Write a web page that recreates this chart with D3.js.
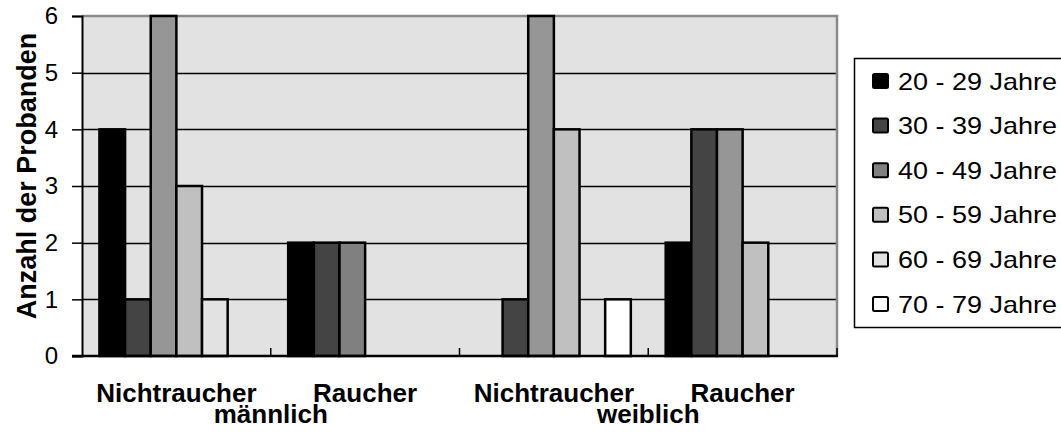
<!DOCTYPE html>
<html>
<head>
<meta charset="utf-8">
<script src="https://cdn.jsdelivr.net/npm/d3@7"></script>
<style>
  html, body { margin: 0; padding: 0; background: #ffffff; }
  svg { display: block; }
  text { font-family: "Liberation Sans", Arial, sans-serif; fill: #000; }
</style>
</head>
<body>
<svg id="chart" width="1061" height="432"></svg>
<script>
// ---- data ----
const categories = ["Nichtraucher", "Raucher", "Nichtraucher", "Raucher"];
const groupLabels = ["männlich", "weiblich"];
const seriesNames = ["20 - 29 Jahre", "30 - 39 Jahre", "40 - 49 Jahre", "50 - 59 Jahre", "60 - 69 Jahre", "70 - 79 Jahre"];
const values2029 = [4, 2, 0, 2];
const values3039 = [1, 2, 1, 4];
const values4049 = [6, 2, 6, 4];
const values5059 = [3, 0, 4, 2];
const values6069 = [1, 0, 0, 0];
const values7079 = [0, 0, 1, 0];
const seriesColors = ["#000000", "#444444", "#969696", "#c0c0c0", "#e2e2e2", "#ffffff"];
const legendColors = ["#000000", "#444444", "#808080", "#c0c0c0", "#e2e2e2", "#ffffff"];
const yTicks = [0, 1, 2, 3, 4, 5, 6];
const yTitle = "Anzahl der Probanden";

const seriesValues = [values2029, values3039, values4049, values5059, values6069, values7079];
const FONT = "'Liberation Sans', Arial, sans-serif";

// ---- layout ----
const svg = d3.select("#chart");
const plot = { left: 82, right: 837, top: 16, bottom: 356 };

const x0 = d3.scaleBand()
  .domain(categories.map((c, i) => i))
  .range([plot.left, plot.right])
  .paddingInner(0).paddingOuter(0);

const x1 = d3.scaleBand()
  .domain(seriesNames.map((s, i) => i))
  .range([0, x0.bandwidth()])
  .paddingInner(0).paddingOuter(0.68);

const y = d3.scaleLinear().domain([0, 6]).range([plot.bottom, plot.top]);

// plot background
svg.append("rect")
  .attr("x", plot.left).attr("y", plot.top)
  .attr("width", plot.right - plot.left).attr("height", plot.bottom - plot.top)
  .attr("fill", "#e2e2e2");

// gridlines
svg.append("g").selectAll("line")
  .data(yTicks.filter(t => t > 0 && t < 6))
  .join("line")
  .attr("x1", plot.left).attr("x2", plot.right)
  .attr("y1", d => Math.round(y(d)) + 0.5).attr("y2", d => Math.round(y(d)) + 0.5)
  .attr("stroke", "#000").attr("stroke-width", 1.3);

// top/right border (gray)
svg.append("path")
  .attr("d", `M${plot.left},${plot.top} H${plot.right} V${plot.bottom}`)
  .attr("fill", "none").attr("stroke", "#8a8a8a").attr("stroke-width", 2.5);

// bars
const barData = [];
seriesValues.forEach((vals, si) => {
  vals.forEach((v, ci) => {
    if (v > 0) {
      let fill = seriesColors[si];
      if (si === 2 && ci === 1) fill = "#808080";
      barData.push({ si, ci, v, fill });
    }
  });
});

svg.append("g").selectAll("rect")
  .data(barData)
  .join("rect")
  .attr("x", d => x0(d.ci) + x1(d.si))
  .attr("y", d => y(d.v))
  .attr("width", x1.bandwidth())
  .attr("height", d => y(0) - y(d.v))
  .attr("fill", d => d.fill)
  .attr("stroke", "#000")
  .attr("stroke-width", 2.5);

// y axis
const yAxis = d3.axisLeft(y).tickValues(yTicks).tickSize(10).tickPadding(14).tickFormat(d3.format("d"));
const gy = svg.append("g").attr("transform", `translate(${plot.left},0)`).call(yAxis);
gy.select(".domain").attr("stroke", "#000").attr("stroke-width", 2);
gy.selectAll(".tick line").attr("stroke", "#000").attr("stroke-width", 1.5);
gy.selectAll(".tick text")
  .attr("font-size", 24).attr("font-family", FONT)
  .attr("fill", "#000");

// x axis (baseline with inward ticks at category boundaries)
const gx = svg.append("g");
gx.append("line")
  .attr("x1", plot.left - 10).attr("x2", plot.right + 1)
  .attr("y1", plot.bottom).attr("y2", plot.bottom)
  .attr("stroke", "#000").attr("stroke-width", 2.5);
const boundaries = categories.map((c, i) => x0(i) + x0.bandwidth());
gx.selectAll("line.bt")
  .data(boundaries)
  .join("line")
  .attr("class", "bt")
  .attr("x1", d => d).attr("x2", d => d)
  .attr("y1", plot.bottom).attr("y2", plot.bottom - 8)
  .attr("stroke", "#000").attr("stroke-width", 1.5);

// category labels
svg.append("g").selectAll("text")
  .data(categories)
  .join("text")
  .attr("x", (d, i) => x0(i) + x0.bandwidth() / 2)
  .attr("y", 402)
  .attr("text-anchor", "middle")
  .attr("font-size", 26).attr("font-weight", "bold")
  .text(d => d);

// group labels
svg.append("g").selectAll("text")
  .data(groupLabels)
  .join("text")
  .attr("x", (d, i) => x0(i * 2) + x0.bandwidth())
  .attr("y", 423)
  .attr("text-anchor", "middle")
  .attr("font-size", 26).attr("font-weight", "bold")
  .text(d => d);

// y title
svg.append("text")
  .attr("transform", `translate(36,176) rotate(-90)`)
  .attr("text-anchor", "middle")
  .attr("font-size", 27).attr("font-weight", "bold")
  .text(yTitle);

// legend
const legend = svg.append("g");
legend.append("rect")
  .attr("x", 854.5).attr("y", 58.5)
  .attr("width", 230).attr("height", 269)
  .attr("fill", "#fff").attr("stroke", "#000").attr("stroke-width", 1.5);

const rowY = d3.scalePoint().domain(seriesNames.map((s, i) => i)).range([81, 304]);
const rows = legend.selectAll("g.row")
  .data(seriesNames)
  .join("g")
  .attr("class", "row")
  .attr("transform", (d, i) => `translate(0,${rowY(i)})`);
rows.append("rect")
  .attr("x", 873).attr("y", -7)
  .attr("width", 15).attr("height", 14)
  .attr("rx", 1.5)
  .attr("fill", (d, i) => legendColors[i])
  .attr("stroke", "#000").attr("stroke-width", 2);
rows.append("text")
  .attr("x", 898).attr("y", 0)
  .attr("dy", "0.36em")
  .attr("font-size", 24)
  .attr("textLength", 159)
  .attr("lengthAdjust", "spacingAndGlyphs")
  .text(d => d);
</script>
</body>
</html>
